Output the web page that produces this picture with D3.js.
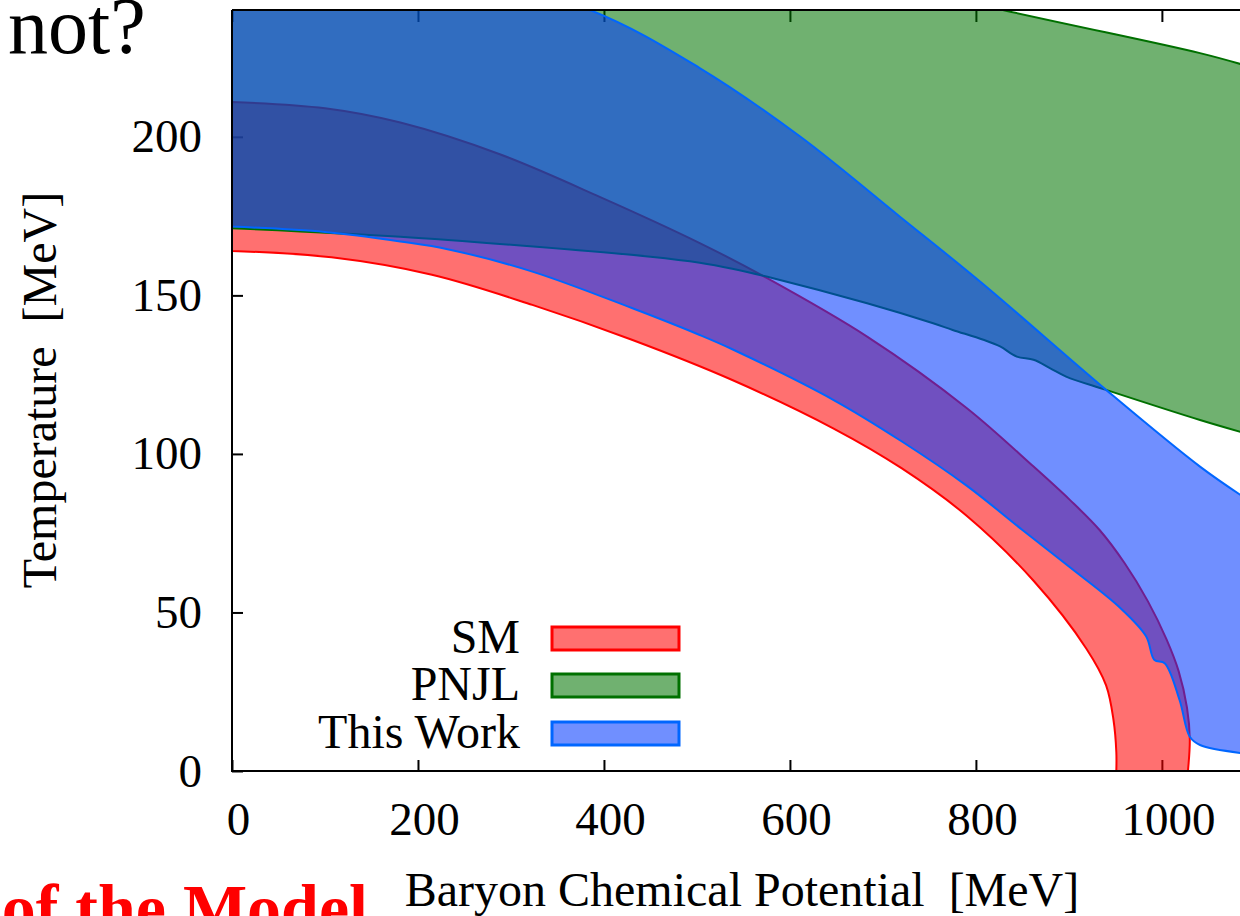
<!DOCTYPE html>
<html>
<head>
<meta charset="utf-8">
<script src="https://cdn.jsdelivr.net/npm/d3@7"></script>
<style>
  html, body { margin: 0; padding: 0; background: #ffffff; }
  svg { display: block; }
  text { font-family: "Liberation Serif", "Times New Roman", serif; }
</style>
</head>
<body>
<svg id="chart" width="1240" height="916"></svg>
<script>
// ---- data ----
const muTicks = [0, 200, 400, 600, 800, 1000];
const tempTicks = [0, 50, 100, 150, 200];
const seriesNames = ["SM", "PNJL", "This Work"];

// SM band: lower / upper boundary [mu, T]
const smLower = [[0,164],[107,162],[215,156.5],[323,147],[430,136],[538,123.3],[647,108],[720,95.5],[790,80.5],[862,60],[919,38.5],[940,27],[948,16],[951,6],[951,0]];
const smUpper = [[0,211],[100,209],[181,204.5],[288,194.5],[396,181],[503,166.5],[575,155.5],[683,137],[790,114.5],[862,96],[901,85.5],[933,76],[960,65.5],[985,53.5],[1005,41.5],[1018,31.5],[1027,20],[1030,10],[1028,0]];

// PNJL band
const pnjlLower = [[0,171.2],[181,168.5],[324,165.4],[450,162.2],[503,160.3],[538,158.4],[582,155.4],[683,147.5],[754,141.2],[775,139.1],[808,136],[826,133.9],[844,130.7],[862,129.7],[880,127],[897,124.4],[940,120.2],[1041,110.7],[1090,106.5]];
const pnjlUpper = [[0,295],[829,240],[1041,226.4],[1090,222.5]];

// This Work band
const workLower = [[0,171.7],[100,170],[181,167],[233,164.5],[323,157.5],[430,146],[503,137.5],[538,133],[647,117],[720,104],[790,90],[850,76],[900,64.5],[955,51.5],[983,42.5],[992,35],[1003,34],[1019,22.4],[1030,10.8],[1041,8.2],[1090,5.5]];
const workUpper = [[0,262],[200,255],[385,240],[503,221.7],[611,200.1],[718,174.9],[808,153.5],[940,120.2],[1041,96],[1090,86]];

// ---- layout ----
const svg = d3.select("#chart");
const x = d3.scaleLinear().domain([0, 1084]).range([232, 1240]);
const y = d3.scaleLinear().domain([0, 240]).range([771, 10]);

const styles = [
  { fill: "#ff0000", stroke: "#ff0000" },
  { fill: "#007400", stroke: "#007000" },
  { fill: "#0038ff", stroke: "#0066ff" }
];
const fillOpacity = 0.56;

// ticks (beneath the fills)
const gx = svg.append("g").attr("transform", `translate(0,${y(0)})`)
  .call(d3.axisBottom(x).tickValues(muTicks).tickFormat(d3.format("d"))
    .tickSizeInner(-11).tickSizeOuter(0).tickPadding(31));
gx.select(".domain").remove();
gx.selectAll("text").attr("font-size", 47).attr("dx", 6).attr("fill", "#000")
  .style("font-family", "'Liberation Serif', serif");
gx.selectAll("line").attr("stroke", "#000").attr("stroke-width", 2);

const gxTop = svg.append("g").attr("transform", `translate(0,${y(240)})`)
  .call(d3.axisTop(x).tickValues(muTicks).tickSizeInner(-12).tickSizeOuter(0).tickFormat(""));
gxTop.select(".domain").remove();
gxTop.selectAll("line").attr("stroke", "#000").attr("stroke-width", 2);

const gy = svg.append("g").attr("transform", `translate(${x(0)},0)`)
  .call(d3.axisLeft(y).tickValues(tempTicks).tickFormat(d3.format("d"))
    .tickSizeInner(-11).tickSizeOuter(0).tickPadding(30));
gy.select(".domain").remove();
gy.selectAll("text").attr("font-size", 47).attr("fill", "#000")
  .style("font-family", "'Liberation Serif', serif");
gy.selectAll("line").attr("stroke", "#000").attr("stroke-width", 2);

// clip
svg.append("defs").append("clipPath").attr("id", "plotclip")
  .append("rect").attr("x", x(0)).attr("y", y(240)).attr("width", 1300 - x(0)).attr("height", y(0) - y(240));

const lineGen = d3.line().x(d => x(d[0])).y(d => y(d[1])).curve(d3.curveCatmullRom.alpha(0.5));
function bandPath(lower, upper) {
  const a = lineGen(lower);
  const b = lineGen(upper.slice().reverse()).replace(/^M/, "L");
  return a + b + "Z";
}

const bands = [[smLower, smUpper], [pnjlLower, pnjlUpper], [workLower, workUpper]];
const gBands = svg.append("g").attr("clip-path", "url(#plotclip)");
bands.forEach((b, i) => {
  gBands.append("path")
    .attr("d", bandPath(b[0], b[1]))
    .attr("fill", styles[i].fill)
    .attr("fill-opacity", fillOpacity)
    .attr("stroke", styles[i].stroke)
    .attr("stroke-width", 2)
    .attr("stroke-linejoin", "round");
});

// border (on top)
svg.append("path")
  .attr("d", `M${x(0)},${y(240)}H1300M${x(0)},${y(240)}V${y(0)}H1300`)
  .attr("fill", "none").attr("stroke", "#000").attr("stroke-width", 2);

// legend
const legendY = [627, 674, 722];
const legend = svg.append("g");
seriesNames.forEach((name, i) => {
  legend.append("text")
    .attr("x", 520).attr("y", legendY[i] + 26)
    .attr("text-anchor", "end").attr("font-size", 48).attr("fill", "#000")
    .text(name);
  legend.append("rect")
    .attr("x", 552).attr("y", legendY[i]).attr("width", 127).attr("height", 23)
    .attr("fill", styles[i].fill).attr("fill-opacity", fillOpacity)
    .attr("stroke", styles[i].stroke).attr("stroke-width", 3);
});

// axis titles
svg.append("text")
  .attr("x", 742).attr("y", 906).attr("text-anchor", "middle")
  .attr("font-size", 48).attr("fill", "#000").style("white-space", "pre")
  .text("Baryon Chemical Potential  [MeV]");
svg.append("text")
  .attr("transform", "translate(56,390) rotate(-90)").attr("text-anchor", "middle")
  .attr("font-size", 48).attr("fill", "#000").style("white-space", "pre")
  .text("Temperature  [MeV]");

// slide fragments
svg.append("text").attr("x", 8).attr("y", 53).attr("font-size", 80).attr("fill", "#000").text("not?");
svg.append("text").attr("x", 368).attr("y", 931).attr("text-anchor", "end")
  .attr("font-size", 68).attr("font-weight", "bold").attr("fill", "#ff0000").text("of the Model");
</script>
</body>
</html>
